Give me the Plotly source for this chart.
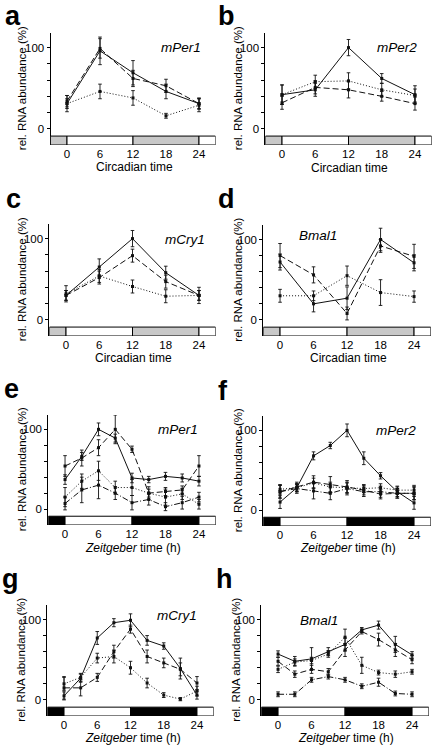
import plotly.graph_objects as go

W, H = 433, 745

# ---------------- data ----------------
CT = [0, 6, 12, 18, 24]
ZT = [0, 3, 6, 9, 12, 15, 18, 21, 24]
XTICKS = [0, 6, 12, 18, 24]
YTICKS = [0, 20, 40, 60, 80, 100]
YTICKTEXT = ["0", "", "", "", "", "100"]

# panel a  mPer1 (circadian)
a_solid = [31, 96, 69, 46, 31]
a_solid_err = [6, 17, 15, 9, 6]
a_dash = [34, 99, 62, 53, 31]
a_dash_err = [7, 12, 10, 8, 7]
a_dot = [31, 46, 38, 16, 29]
a_dot_err = [10, 9, 9, 3, 8]

# panel b  mPer2 (circadian)
b_solid = [42, 48, 100, 62, 42]
b_solid_err = [12, 8, 10, 6, 11]
b_dash = [32, 51, 48, 40, 31]
b_dash_err = [8, 8, 10, 6, 8]
b_dot = [42, 58, 59, 48, 41]
b_dot_err = [12, 8, 10, 8, 8]

# panel c  mCry1 (circadian)
c_solid = [30, 65, 100, 58, 30]
c_solid_err = [6, 10, 10, 8, 6]
c_dash = [30, 52, 79, 47, 30]
c_dash_err = [6, 8, 8, 8, 6]
c_dot = [32, 54, 41, 29, 30]
c_dot_err = [10, 8, 8, 8, 10]

# panel d  Bmal1 (circadian)
d_solid = [72, 20, 27, 100, 71]
d_solid_err = [10, 10, 14, 14, 10]
d_dash = [80, 56, 8, 92, 79]
d_dash_err = [15, 10, 8, 8, 15]
d_dot = [30, 30, 55, 34, 29]
d_dot_err = [8, 6, 12, 16, 7]

# panel e  mPer1 (zeitgeber)
e_solid = [37, 66, 100, 89, 39, 37, 41, 39, 35]
e_solid_err = [6, 5, 8, 5, 6, 4, 5, 5, 6]
e_dash = [54, 64, 77, 100, 75, 20, 22, 24, 54]
e_dash_err = [13, 10, 10, 18, 4, 5, 5, 5, 13]
e_dot = [15, 35, 48, 27, 27, 20, 15, 19, 6]
e_dot_err = [12, 9, 12, 8, 10, 8, 10, 7, 6]
e_dashdot = [7, 24, 30, 20, 8, 12, 3, 8, 15]
e_dashdot_err = [8, 16, 17, 8, 9, 7, 5, 8, 6]

# panel f  mPer2 (zeitgeber)
f_solid = [10, 28, 68, 81, 100, 65, 43, 23, 9]
f_solid_err = [8, 4, 5, 4, 8, 8, 4, 6, 8]
f_dash = [23, 29, 35, 32, 29, 25, 20, 21, 21]
f_dash_err = [8, 6, 8, 10, 8, 6, 6, 6, 8]
f_dot = [26, 28, 34, 29, 28, 27, 28, 25, 25]
f_dot_err = [6, 5, 6, 6, 6, 5, 5, 5, 6]
f_dashdot = [23, 27, 24, 21, 27, 23, 23, 21, 21]
f_dashdot_err = [8, 6, 10, 8, 8, 6, 7, 6, 8]

# panel g  mCry1 (zeitgeber)
g_solid = [5, 27, 77, 96, 99, 74, 67, 39, 6]
g_solid_err = [5, 5, 8, 5, 8, 6, 4, 13, 5]
g_dash = [15, 15, 28, 60, 88, 54, 46, 38, 21]
g_dash_err = [14, 10, 5, 8, 5, 8, 6, 8, 8]
g_dot = [20, 28, 52, 54, 40, 21, 6, 1, 11]
g_dot_err = [8, 5, 6, 8, 8, 6, 3, 2, 6]

# panel h  Bmal1 (zeitgeber)
h_solid = [57, 48, 51, 60, 69, 87, 93, 69, 56]
h_solid_err = [4, 6, 14, 5, 8, 3, 5, 10, 4]
h_dash = [48, 32, 38, 35, 62, 85, 75, 62, 50]
h_dash_err = [5, 4, 5, 4, 8, 3, 8, 8, 5]
h_dot = [38, 47, 49, 57, 78, 43, 34, 32, 35]
h_dot_err = [4, 4, 4, 4, 10, 10, 3, 4, 3]
h_dashdot = [7, 7, 25, 29, 25, 17, 22, 8, 7]
h_dashdot_err = [3, 3, 3, 3, 3, 3, 5, 3, 3]

CIRC_TITLE = "Circadian time"
ZEIT_TITLE = "<i>Zeitgeber</i> time (h)"
Y_TITLE = "rel. RNA abundance (%)"

# ---------------- styles / layout ----------------
DASH = {"solid": "solid", "dash": "6px,3px", "dot": "1px,2px", "dashdot": "6px,2px,1px,2px"}
FONT = "Liberation Sans, Arial, Helvetica, sans-serif"
XR = [-3, 27]
YR = [-20, 118]
BAR_TOP = -9
PHASES = [(-3, 0, True), (0, 12, False), (12, 24, True), (24, 27, False)]

panels = [
    dict(letter="a", gene="mPer1", x=CT, zeit=False,
         series=[(a_solid, a_solid_err, "solid"), (a_dash, a_dash_err, "dash"), (a_dot, a_dot_err, "dot")],
         dom=(50.5, 215.5, 33, 145), let=(13, 25), genep=(181, 48), xt=(134, 167), ytx=22),
    dict(letter="b", gene="mPer2", x=CT, zeit=False,
         series=[(b_solid, b_solid_err, "solid"), (b_dash, b_dash_err, "dash"), (b_dot, b_dot_err, "dot")],
         dom=(265.4, 431.6, 33, 145), let=(226, 25), genep=(397, 48), xt=(349, 168), ytx=238),
    dict(letter="c", gene="mCry1", x=CT, zeit=False,
         series=[(c_solid, c_solid_err, "solid"), (c_dash, c_dash_err, "dash"), (c_dot, c_dot_err, "dot")],
         dom=(49.4, 215.6, 224, 336), let=(13, 208), genep=(185, 239), xt=(133, 358), ytx=22),
    dict(letter="d", gene="Bmal1", x=CT, zeit=False,
         series=[(d_solid, d_solid_err, "solid"), (d_dash, d_dash_err, "dash"), (d_dot, d_dot_err, "dot")],
         dom=(263.3, 430.8, 225, 336), let=(226, 208), genep=(318, 235), xt=(348, 358), ytx=238),
    dict(letter="e", gene="mPer1", x=ZT, zeit=True,
         series=[(e_solid, e_solid_err, "solid"), (e_dash, e_dash_err, "dash"),
                 (e_dot, e_dot_err, "dot"), (e_dashdot, e_dashdot_err, "dashdot")],
         dom=(48.3, 215.7, 415, 525), let=(11, 398), genep=(178, 429), xt=(133, 548), ytx=22),
    dict(letter="f", gene="mPer2", x=ZT, zeit=True,
         series=[(f_solid, f_solid_err, "solid"), (f_dash, f_dash_err, "dash"),
                 (f_dot, f_dot_err, "dot"), (f_dashdot, f_dashdot_err, "dashdot")],
         dom=(263.3, 430.8, 416, 526), let=(223, 400), genep=(396, 430), xt=(348, 548), ytx=238),
    dict(letter="g", gene="mCry1", x=ZT, zeit=True,
         series=[(g_solid, g_solid_err, "solid"), (g_dash, g_dash_err, "dash"), (g_dot, g_dot_err, "dot")],
         dom=(47.4, 213.6, 605, 716), let=(10, 588), genep=(177, 615), xt=(133, 738), ytx=21),
    dict(letter="h", gene="Bmal1", x=ZT, zeit=True,
         series=[(h_solid, h_solid_err, "solid"), (h_dash, h_dash_err, "dash"),
                 (h_dot, h_dot_err, "dot"), (h_dashdot, h_dashdot_err, "dashdot")],
         dom=(261.3, 428.8, 605, 716), let=(224, 588), genep=(319, 620), xt=(346, 738), ytx=236),
]

def px_x(v):
    return v / W

def px_y(v):
    return 1 - v / H

fig = go.Figure()
layout = dict(width=W, height=H, margin=dict(l=0, r=0, t=0, b=0), autosize=False,
              paper_bgcolor="white", plot_bgcolor="rgba(0,0,0,0)", showlegend=False,
              font=dict(family=FONT, size=11, color="black"))
shapes, annotations = [], []

for i, p in enumerate(panels):
    n = i + 1
    xa = "x" if n == 1 else f"x{n}"
    ya = "y" if n == 1 else f"y{n}"
    xkey = "xaxis" if n == 1 else f"xaxis{n}"
    ykey = "yaxis" if n == 1 else f"yaxis{n}"
    l, r, t, b = p["dom"]
    layout[xkey] = dict(domain=[px_x(l), px_x(r)], range=XR, anchor=ya, showline=False,
                        showgrid=False, zeroline=False, ticks="", tickvals=XTICKS,
                        tickfont=dict(size=11.5, family=FONT), fixedrange=True)
    layout[ykey] = dict(domain=[px_y(b), px_y(t)], range=YR, anchor=xa, showline=True,
                        linecolor="black", linewidth=1, showgrid=False, zeroline=False,
                        ticks="outside", ticklen=3, tickwidth=1, tickcolor="black",
                        tickvals=YTICKS, ticktext=YTICKTEXT,
                        tickfont=dict(size=11.5, family=FONT), fixedrange=True)
    for ys, err, style in p["series"]:
        fig.add_trace(go.Scatter(
            x=p["x"], y=ys, mode="lines+markers", xaxis=xa, yaxis=ya,
            line=dict(color="#111111", width=1, dash=DASH[style]),
            marker=dict(symbol="square", size=3, color="#111111"),
            error_y=dict(type="data", array=err, visible=True, thickness=0.9,
                         width=1.8, color="#111111"),
            cliponaxis=False, hoverinfo="skip"))
    dark = "#000000" if p["zeit"] else "#c8c8c8"
    for x0, x1, isdark in PHASES:
        shapes.append(dict(type="rect", xref=xa, yref=ya, x0=x0, x1=x1, y0=YR[0], y1=BAR_TOP,
                           fillcolor=dark if isdark else "white",
                           line=dict(color="black", width=1), layer="above"))
    # panel letter
    lx, lb = p["let"]
    annotations.append(dict(text=f"<b>{p['letter']}</b>", x=px_x(lx), y=px_y(lb - 9),
                            xref="paper", yref="paper", xanchor="center", yanchor="middle",
                            showarrow=False, font=dict(size=27, family=FONT, color="black")))
    gx, gy = p["genep"]
    annotations.append(dict(text=f"<i>{p['gene']}</i>", x=px_x(gx), y=px_y(gy),
                            xref="paper", yref="paper", xanchor="center", yanchor="middle",
                            showarrow=False, font=dict(size=13.5, family=FONT, color="black")))
    tx, ty = p["xt"]
    annotations.append(dict(text=ZEIT_TITLE if p["zeit"] else CIRC_TITLE, x=px_x(tx), y=px_y(ty),
                            xref="paper", yref="paper", xanchor="center", yanchor="middle",
                            showarrow=False, font=dict(size=12, family=FONT, color="black")))
    annotations.append(dict(text=Y_TITLE, x=px_x(p["ytx"]), y=50, xref="paper", yref=ya,
                            xanchor="center", yanchor="middle", textangle=-90,
                            showarrow=False, font=dict(size=11.5, family=FONT, color="black")))

layout["shapes"] = shapes
layout["annotations"] = annotations
fig.update_layout(**layout)
fig.write_html("out.html", config={"displayModeBar": False, "staticPlot": True},
               post_script="document.body.style.margin='0px';document.body.style.overflow='hidden';")
